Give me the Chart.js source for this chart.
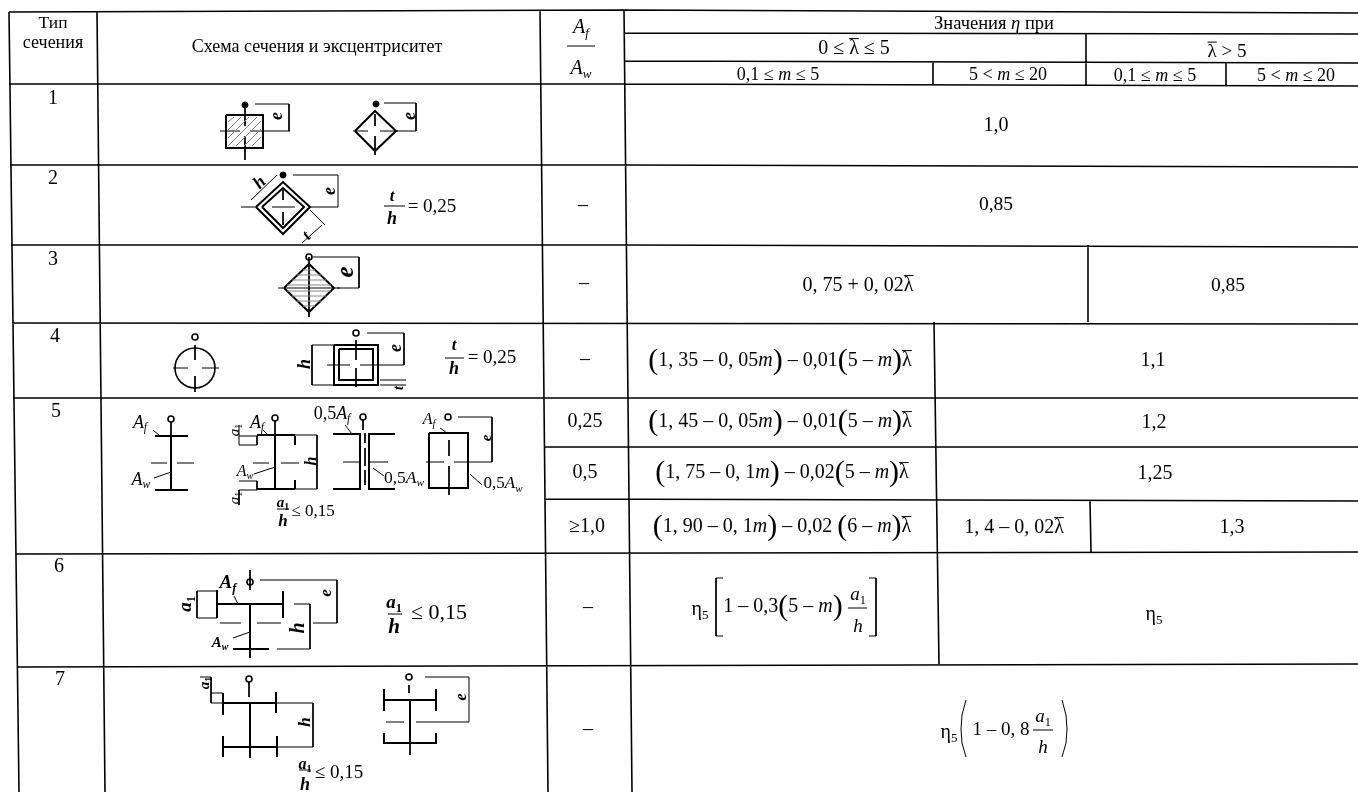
<!DOCTYPE html>
<html>
<head>
<meta charset="utf-8">
<style>
  body { margin: 0; background: #fff; }
  canvas { display: block; }
</style>
<script src="https://cdn.jsdelivr.net/npm/chart.js@4"></script>
</head>
<body>
<canvas id="tableChart" width="1358" height="792"></canvas>
<script>
// text of the table. markup: *italic*, ~overbar~, _subscript_, {big bracket}
const headerLabels = ['Тип', 'сечения', 'Схема сечения и эксцентриситет', 'Значения *η* при', '0 ≤ ~λ~ ≤ 5', '~λ~ > 5',
    '0,1 ≤ *m* ≤ 5', '5 < *m* ≤ 20', '0,1 ≤ *m* ≤ 5', '5 < *m* ≤ 20', '*A*_*f*_', '*A*_*w*_'];
const typeLabels = ['1', '2', '3', '4', '5', '6', '7'];
const ratioLabels = ['–', '–', '–', '0,25', '0,5', '≥1,0', '–', '–'];
const etaLabels = ['1,0', '0,85', '0, 75 + 0, 02~λ~', '0,85',
    '{(}1, 35 – 0, 05*m*{)} – 0,01{(}5 – *m*{)}~λ~', '1,1',
    '{(}1, 45 – 0, 05*m*{)} – 0,01{(}5 – *m*{)}~λ~', '1,2',
    '{(}1, 75 – 0, 1*m*{)} – 0,02{(}5 – *m*{)}~λ~', '1,25',
    '{(}1, 90 – 0, 1*m*{)} – 0,02 {(}6 – *m*{)}~λ~', '1, 4 – 0, 02~λ~', '1,3',
    'η_5_', '1 – 0,3{(}5 – *m*{)}', '*a*_1_', '*h*', 'η_5_',
    'η_5_', '1 – 0, 8', '*a*_1_', '*h*'];
const schemeLabels = ['*e*', '*e*', '*h*', '*e*', '*t*', '*t*', '*h*', '= 0,25', '*e*',
    '*e*', '*h*', '*t*', '*t*', '*h*', '= 0,25',
    '*A*_*f*_', '*A*_*w*_', '*a*_1_', '*A*_*f*_', '*A*_*w*_', '*h*', '*a*_1_', '0,5*A*_*f*_', '0,5*A*_*w*_', '*A*_*f*_', '*e*', '0,5*A*_*w*_',
    '*a*_1_', '*h*', '≤ 0,15',
    '*A*_*f*_', '*A*_*w*_', '*a*_1_', '*e*', '*h*', '*a*_1_', '*h*', '≤ 0,15',
    '*a*_1_', '*h*', '*a*_1_', '*h*', '≤ 0,15', '*e*'];

// where the labels above sit, in table units: x, y, size, rotation, bold
const headerSpots = [[53,23,17.5],[53,43,18],[317,47,18],[994,24,18.5],[854,49,20],[1227,52,19],
    [778,75,18],[1008,75,18],[1155,76,18],[1296,76,18],[581,28,20],[581,69,20]];
const typeSpots = [[53,99,20],[53,179,20],[53,260,20],[55,337,20],[56,412,20],[59,567,20],[60,680,20]];
const ratioSpots = [[583,206,20],[584,284,20],[585,360,20],[585,422,20],[585,473,20],[587,527,20],[588,608,20],[588,730,20]];
const etaSpots = [[996,126,20],[996,205,19.5],[858,286,20],[1228,286,19.5],
    [780,361,20],[1153,361,20],[780,422,20],[1154,423,20],[782,473,20],[1155,474,20],[782,527,20],[1014,528,20],[1232,528,20],
    [700,610,20],[783,607,20],[858,595,19],[858,627,19],[1154,615,20],
    [949,733,20],[1001,730,19],[1043,717,19],[1043,748,19]];
const schemeSpots = [[277,116,18,-90,1],[410,116,18,-90,1],[260,183,18,-45,1],[330,191,18,-90,1],[307,236,16,-45,1],[392,197,17,0,1],[392,219,18,0,1],[432,207,19],
    [347,272,25,-90,1],[396,348,18,-90,1],[305,364,18,-90,1],[399,388,14,-90,1],[454,346,17,0,1],[454,369,18,0,1],[492,358,19],
    [140,423,18,0,0],[141,480,18,0,0],[235,430,15,-90,0],[257,423,18,0,0],[245,472,16,0,0],[312,461,16,-90,1],[235,498,15,-90,0],[332,414,18,0,0],[404,478,17.5,0,0],[429,420,16,0,0],[487,438,15,-90,1],[503,484,17,0,0],
    [283,503,15,0,1],[283,522,17,0,1],[313,512,17],
    [228,583,19,0,1],[220,643,15,0,1],[186,604,19,-90,1],[327,593,17,-90,1],[299,628,20,-90,1],[394,603,19,0,1],[394,628,21,0,1],[439,613,22],
    [205,683,15,-90,1],[306,722,17,-90,1],[305,765,16,0,1],[305,785,18,0,1],[339,773,19],[462,697,16,-90,1]];

// table rules, top to bottom and then left to right; the scan is slightly skewed
const tableRules = [
    [[9,12],[624,10],[1358,13]], [[624,33],[1358,34]], [[624,61],[1358,63]], [[9,84],[624,84],[1358,86]],
    [[10,165],[624,165],[1358,167]], [[11,245],[624,245],[1358,247]], [[12,323],[1358,324]], [[13,398],[1358,398]],
    [[544,447],[1358,447]], [[545,499],[1358,501]], [[16,554],[1358,552]], [[18,667],[1358,664]],
    [[9,12],[19,792]], [[97,11],[105,792]], [[540,10],[548,792]], [[624,10],[632,792]],
    [[1086,33],[1086,86]], [[933,62],[933,84]], [[1226,62],[1226,86]], [[1088,245],[1088,322]],
    [[934,322],[939,664]], [[1090,500],[1091,552]]
];
// section outlines
const sectionOutlines = [
    [[226,115],[263,115],[263,148],[226,148],[226,115]],
    [[355,131],[375,111],[396,131],[375,151],[355,131]],
    [[256,207],[283,182],[310,207],[283,234],[256,207]],
    [[262,207],[283,188],[304,207],[283,228],[262,207]],
    [[284,288],[309,264],[334,288],[309,312],[284,288]],
    [[334,345],[378,345],[378,385],[334,385],[334,345]],
    [[339,349],[373,349],[373,380],[339,380],[339,349]],
    [[155,436],[188,436]], [[155,490],[188,490]], [[171,436],[171,490]],
    [[257,435],[295,435]], [[257,489],[295,489]], [[275,435],[275,489]], [[295,436],[295,445]], [[295,480],[295,489]],
    [[333,434],[360,434],[360,489],[333,489]], [[395,434],[369,434],[369,489],[395,489]],
    [[429,433],[468,433],[468,488],[429,488],[429,433]],
    [[217,590],[217,618]], [[283,591],[283,618]], [[217,604],[283,604]], [[250,604],[250,658]], [[233,649],[269,649]],
    [[223,703],[276,703]], [[223,693],[223,715]], [[276,692],[276,713]], [[250,703],[250,758]], [[223,747],[277,747]],
    [[223,736],[223,757]], [[277,736],[277,757]],
    [[384,700],[436,700]], [[384,689],[384,711]], [[436,689],[436,711]], [[410,700],[410,743]],
    [[384,733],[384,743],[436,743],[436,733]]
];
// centre lines, dimension lines, leaders, fraction bars
const thinLines = [
    [[220,131],[240,131]], [[250,131],[290,131]], [[245,105],[245,126]], [[245,136],[245,160]], [[255,104],[289,104],[289,131]],
    [[353,131],[368,131]], [[380,131],[398,131]], [[375,114],[375,126]], [[375,136],[375,155]], [[384,103],[416,103],[416,131],[396,131]],
    [[241,207],[256,207]], [[272,207],[295,207]], [[283,190],[283,200]], [[283,212],[283,225]], [[310,207],[338,207],[338,175],[293,175]],
    [[251,200],[277,175]], [[310,210],[325,225]], [[302,243],[322,225]],
    [[278,288],[340,288]], [[309,257],[309,317]], [[313,257],[359,257],[359,288],[337,288]],
    [[173,368],[188,368]], [[202,368],[219,368]], [[195,345],[195,360]], [[195,376],[195,392]],
    [[327,365],[350,365]], [[360,365],[384,365]], [[356,340],[356,360]], [[356,368],[356,387]], [[367,333],[404,333],[404,365],[384,365]],
    [[334,345],[312,345],[312,385],[334,385]], [[380,380],[406,380]], [[380,385],[406,385]],
    [[151,463],[167,463]], [[177,463],[194,463]], [[171,422],[171,436]], [[153,430],[160,436]], [[154,478],[171,472]],
    [[253,463],[269,463]], [[281,463],[299,463]], [[275,421],[275,435]], [[263,430],[268,435]], [[254,474],[275,467]],
    [[295,435],[317,435],[317,489],[295,489]], [[239,436],[257,436],[257,445],[239,445],[239,425]], [[239,481],[257,481],[257,490],[239,490],[239,505]],
    [[343,462],[360,462]], [[369,462],[388,462]], [[365,433],[365,443]], [[365,448],[365,466]], [[365,470],[365,485]], [[363,420],[363,430]],
    [[345,425],[352,434]], [[373,468],[384,476]],
    [[426,462],[444,462]], [[454,462],[492,462]], [[449,440],[449,456]], [[449,466],[449,495]], [[458,417],[492,417],[492,462]], [[440,428],[447,433]], [[470,474],[482,485]],
    [[277,509],[289,509]],
    [[250,570],[250,590]], [[197,591],[217,591]], [[197,618],[217,618]], [[197,591],[197,618]], [[234,596],[238,604]], [[233,638],[250,632]],
    [[260,580],[337,580],[337,623],[313,623]], [[220,623],[241,623]], [[257,623],[281,623]],
    [[294,604],[310,604],[310,649],[277,649]], [[388,614],[402,614]],
    [[249,682],[249,697]], [[200,677],[211,677],[211,703],[223,703]], [[211,693],[223,693]], [[276,703],[313,703],[313,747],[277,747]], [[299,770],[311,770]],
    [[386,722],[404,722]], [[416,722],[469,722],[469,677],[425,677]], [[409,685],[409,693]], [[410,743],[410,755]],
    [[848,608],[867,608]], [[1033,730],[1053,730]],
    [[405,206],[384,206]], [[445,358],[464,358]], [[567,46],[595,46]],
    [[716,578],[723,578]], [[716,578],[716,636]], [[716,636],[723,636]],
    [[869,578],[876,578]], [[876,578],[876,636]], [[869,636],[876,636]],
    [[966,700],[962,715],[961,729],[962,743],[966,757]], [[1062,700],[1066,715],[1067,729],[1066,743],[1062,757]]
];
// grey hatching inside the sections of types 1 and 3
const hatchLines = [
    [[228,122],[234,117]], [[228,130],[241,117]], [[228,138],[249,117]], [[228,146],[257,117]], [[236,146],[261,121]], [[244,146],[261,129]], [[252,146],[261,137]],
    [[303,270],[315,270]], [[297,275],[321,275]], [[292,280],[326,280]], [[287,285],[331,285]],
    [[287,291],[331,291]], [[292,296],[326,296]], [[297,301],[321,301]], [[303,306],[315,306]]
];
const openMarkers = [[309,257],[195,337],[356,333],[171,419],[275,418],[363,417],[448,417],[250,582],[249,679],[409,677]];
const solidMarkers = [[245,105],[376,104],[283,175]];
const roundSection = [[195,368]];

function toPoints(paths) {
    const pts = [];
    paths.forEach(function (path) {
        path.forEach(function (p) { pts.push({ x: p[0], y: p[1] }); });
        pts.push({ x: null, y: null });
    });
    return pts;
}

function toMarkers(list) {
    return list.map(function (p) { return { x: p[0], y: p[1] }; });
}

function lineSet(paths, color, width) {
    return { data: toPoints(paths), showLine: true, pointRadius: 0, borderColor: color, borderWidth: width, spanGaps: false };
}

function markerSet(list, radius, fill, width) {
    return { data: toMarkers(list), showLine: false, pointStyle: 'circle', pointRadius: radius, pointBackgroundColor: fill, pointBorderColor: '#000', pointBorderWidth: width };
}

const FONT = '"Liberation Serif"';

function parseRuns(str) {
    const re = /\*([^*]+)\*(?!_)|\*([^*]+)\*|~([^~]+)~|_\*([^*]+)\*_|_([^_]+)_|\{(.)\}/g;
    const runs = [];
    let last = 0, m;
    while ((m = re.exec(str)) !== null) {
        if (m.index > last) runs.push({ t: str.slice(last, m.index) });
        if (m[1] || m[2]) runs.push({ t: m[1] || m[2], italic: true });
        else if (m[3]) runs.push({ t: m[3], bar: true });
        else if (m[4]) runs.push({ t: m[4], italic: true, sub: true });
        else if (m[5]) runs.push({ t: m[5], sub: true });
        else if (m[6]) runs.push({ t: m[6], big: true });
        last = re.lastIndex;
    }
    if (last < str.length) runs.push({ t: str.slice(last) });
    return runs;
}

function runFont(run, size, bold) {
    let s = size;
    if (run.sub) s = size * 0.65;
    if (run.big) s = size * 1.5;
    return (run.italic ? 'italic ' : '') + (bold ? 'bold ' : '') + s + 'px ' + FONT;
}

function drawLabel(c, str, px, py, size, rot, bold) {
    const runs = parseRuns(str);
    let total = 0;
    runs.forEach(function (r) {
        c.font = runFont(r, size, bold);
        r.w = c.measureText(r.t).width;
        total += r.w;
    });
    c.save();
    c.translate(px, py);
    if (rot) c.rotate(rot * Math.PI / 180);
    c.fillStyle = '#000';
    c.strokeStyle = '#000';
    c.textBaseline = 'middle';
    c.textAlign = 'left';
    let x = -total / 2;
    runs.forEach(function (r) {
        c.font = runFont(r, size, bold);
        c.fillText(r.t, x, r.sub ? size * 0.28 : 0);
        if (r.bar) {
            c.lineWidth = 1;
            c.beginPath();
            c.moveTo(x, -size * 0.52);
            c.lineTo(x + r.w, -size * 0.52);
            c.stroke();
        }
        x += r.w;
    });
    c.restore();
}

const tableText = {
    id: 'tableText',
    afterDatasetsDraw: function (chart) {
        const c = chart.ctx, xs = chart.scales.x, ys = chart.scales.y;
        [[headerLabels, headerSpots], [typeLabels, typeSpots], [ratioLabels, ratioSpots],
         [etaLabels, etaSpots], [schemeLabels, schemeSpots]].forEach(function (group) {
            group[0].forEach(function (label, i) {
                const s = group[1][i];
                drawLabel(c, label, xs.getPixelForValue(s[0]), ys.getPixelForValue(s[1]), s[2], s[3] || 0, !!s[4]);
            });
        });
    }
};

new Chart(document.getElementById('tableChart').getContext('2d'), {
    type: 'scatter',
    data: {
        datasets: [
            lineSet(tableRules, '#000', 1.6),
            lineSet(hatchLines, '#888', 1),
            lineSet(sectionOutlines, '#000', 2),
            lineSet(thinLines, '#000', 1),
            markerSet(openMarkers, 3, '#fff', 1.6),
            markerSet(solidMarkers, 3, '#000', 1),
            markerSet(roundSection, 20, 'rgba(0,0,0,0)', 1.6)
        ]
    },
    options: {
        responsive: false,
        animation: false,
        layout: { padding: 0, autoPadding: false },
        plugins: { legend: { display: false }, tooltip: { enabled: false }, title: { display: false } },
        scales: {
            x: { type: 'linear', display: false, min: 0, max: 1358 },
            y: { type: 'linear', display: false, min: 0, max: 792, reverse: true }
        }
    },
    plugins: [tableText]
});
</script>
</body>
</html>
